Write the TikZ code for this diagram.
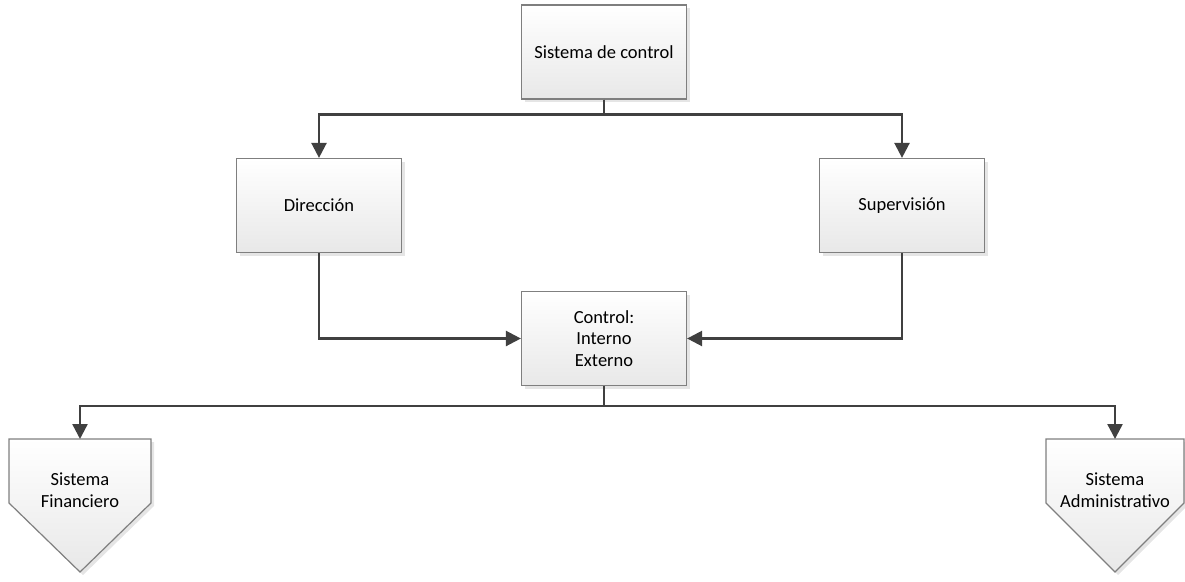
\documentclass[tikz,border=0pt]{standalone}
\usepackage{fontspec}
\setmainfont{Carlito}
\usetikzlibrary{arrows.meta,shadows}
\definecolor{boxline}{HTML}{7F7F7F}
\definecolor{boxfill}{HTML}{E8E8E8}
\definecolor{linkcol}{HTML}{404040}
\begin{document}
\begin{tikzpicture}[x=1pt,y=-1pt,
  softshadow/.style={drop shadow={shadow xshift=3pt, shadow yshift=-3pt, fill=black, opacity=0.1}},
  box/.style={draw=boxline, line width=1.2pt, top color=white, bottom color=boxfill,
    softshadow, minimum width=165pt, minimum height=94pt, inner sep=0pt,
    align=center, font=\fontsize{18.5}{21.5}\selectfont},
  txt/.style={align=center, inner sep=0pt, font=\fontsize{18.5}{21.5}\selectfont},
  pent/.style={draw=boxline, line width=1.2pt, top color=white, bottom color=boxfill, softshadow},
  link/.style={draw=linkcol, line width=2.4pt, -{Triangle[length=15pt,width=15pt]}}]
\useasboundingbox (0,0) rectangle (1185,581);

% main boxes
\node[box] (top) at (604,52)    {Sistema de control};
\node[box] (dir) at (319,205.5) {Dirección};
\node[box] (sup) at (902,205.5) {Supervisión};
\node[box] (ctl) at (604,338.5) {Control:\\Interno\\Externo};

% off-page connector shapes
\path[pent] (9,439) -- (151,439) -- (151,503) -- (80,572) -- (9,503) -- cycle;
\path[pent] (1046,439) -- (1184,439) -- (1184,503) -- (1115,572) -- (1046,503) -- cycle;
\coordinate (finTop) at (80,439);
\coordinate (admTop) at (1115,439);
\node[txt] (fin) at (80,490)   {Sistema\\Financiero};
\node[txt] (adm) at (1115,490) {Sistema\\Administrativo};

% connectors
\draw[link] (top.south) -- ++(0,15) -| (dir.north);
\draw[link] (top.south) -- ++(0,15) -| (sup.north);
\draw[link] (dir.south) |- (ctl.west);
\draw[link] (sup.south) |- (ctl.east);
\draw[link] (ctl.south) -- ++(0,20) -| (finTop);
\draw[link] (ctl.south) -- ++(0,20) -| (admTop);
\end{tikzpicture}
\end{document}
